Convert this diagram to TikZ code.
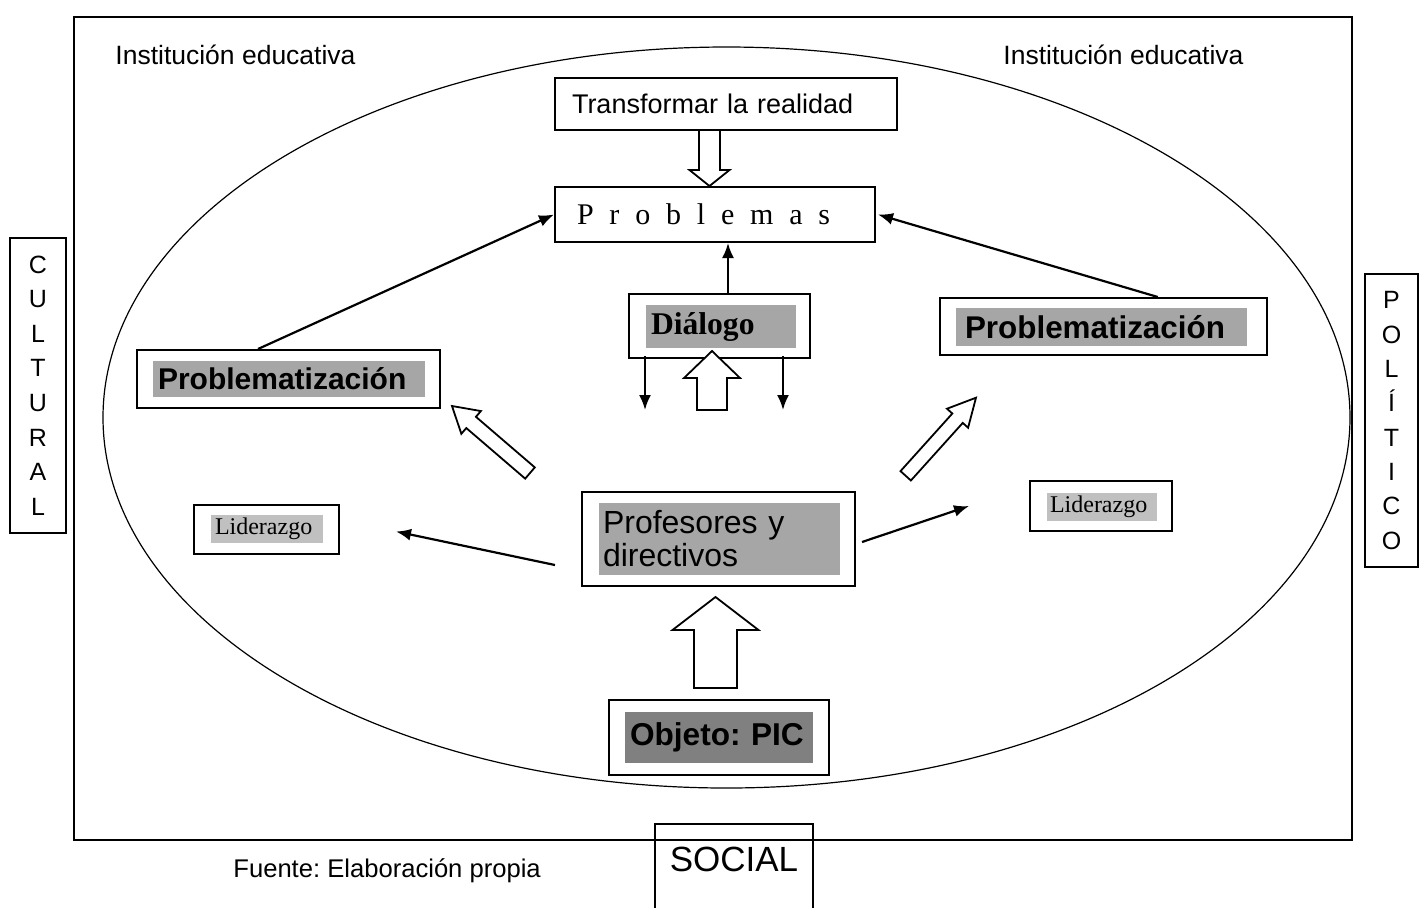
\documentclass[tikz,border=0pt]{standalone}
\usepackage{fontspec}
\setmainfont{Liberation Sans}
\newfontfamily\tms{Liberation Serif}
\usetikzlibrary{calc,arrows.meta}
\definecolor{graymid}{HTML}{A6A6A6}
\definecolor{graylight}{HTML}{C0C0C0}
\definecolor{graydark}{HTML}{808080}
\frenchspacing
\newcommand\fsz[2]{\fontsize{#1}{#2}\selectfont}
\newcommand\lsp{\hspace{7.9pt}}
% #1 tail, #2 tip, #3 shaft half width, #4 head half width, #5 head length, #6 name
\newcommand\hollowarrow[6]{%
  \coordinate (#6b) at ($(#2)!#5!(#1)$);
  \draw[harrow] ($(#1)!#3!90:(#2)$) -- ($(#6b)!#3!90:(#2)$) -- ($(#6b)!#4!90:(#2)$)
    -- (#2) -- ($(#6b)!#4!-90:(#2)$) -- ($(#6b)!#3!-90:(#2)$) -- ($(#1)!#3!-90:(#2)$) -- cycle;}
\begin{document}
\begin{tikzpicture}[x=0.5pt,y=-0.5pt,
  box/.style={draw, line width=1pt, inner sep=0pt},
  gbox/.style={inner ysep=0pt, align=left},
  arr/.style={line width=1.1pt,-{Latex[length=7.5pt,width=6pt]}},
  harrow/.style={line width=0.9pt, fill=white, line join=miter}]
\useasboundingbox (0,0) rectangle (1419,907);

% frame and ellipse
\draw[line width=0.8pt] (74,17) rectangle (1352,840);
\draw[line width=0.6pt] (726.5,417.5) ellipse [x radius=311.75pt, y radius=185.25pt];

% labels
\node[anchor=base west, inner sep=0pt, font=\fsz{13.25pt}{16pt}] (ie1) at (115,64) {Institución educativa};
\node[anchor=base west, inner sep=0pt, font=\fsz{13.25pt}{16pt}] (ie2) at (1003,64) {Institución educativa};
\node[anchor=base west, inner sep=0pt, font=\fsz{12.8pt}{16pt}] (fuente) at (233,877) {Fuente: Elaboración propia};

% side boxes
\node[box, minimum width=28pt, minimum height=147.5pt, align=center, font=\fsz{12.5pt}{17.3pt}] (cult) at (38,385.5) {C\\U\\L\\T\\U\\R\\A\\L};
\node[box, minimum width=26.5pt, minimum height=146.5pt, align=center, font=\fsz{12.5pt}{17.15pt}] (pol) at (1391.5,420.5) {P\\O\\L\\Í\\T\\I\\C\\O};
\node[box, anchor=north, minimum width=79pt, text height=23.5pt, text depth=25pt, font=\fsz{17.5pt}{20pt}] (social) at (734,823) {SOCIAL};

% top boxes
\node[box, minimum height=26pt, text width=154pt, inner xsep=8.5pt, align=left, font=\fsz{13.5pt}{16pt}] (transf) at (726,104) {Transformar la realidad};
\node[box, minimum height=27.5pt, text width=138pt, inner xsep=11pt, align=left, font=\tms\fsz{15pt}{18pt}] (prob) at (715,214.5) {P\lsp r\lsp o\lsp b\lsp l\lsp e\lsp m\lsp a\lsp s};

% Dialogo
\node[box, minimum width=90.5pt, minimum height=32pt] (dlg) at (719.5,326) {};
\node[gbox, fill=graymid, minimum height=21.5pt, text width=70pt, inner xsep=2.5pt, font=\tms\bfseries\fsz{15.8pt}{18pt}] (dlgt) at (721,326.5) {Diálogo};

% Problematizacion left
\node[box, minimum width=151.5pt, minimum height=29pt] (pl) at (288.5,379) {};
\node[gbox, fill=graymid, minimum height=18pt, text width=131pt, inner xsep=2.5pt, font=\bfseries\fsz{15pt}{17pt}] (plt) at (289,379) {Problematización};

% Problematizacion right
\node[box, minimum width=163.5pt, minimum height=28.5pt] (pr) at (1103.5,326.5) {};
\node[gbox, fill=graymid, minimum height=19pt, text width=136.5pt, inner xsep=4.5pt, font=\bfseries\fsz{15.7pt}{18pt}] (prt) at (1101.5,327) {Problematización};

% Profesores
\node[box, minimum width=136.5pt, minimum height=47pt] (prof) at (718.5,539) {};
\node[gbox, fill=graymid, minimum height=36pt, text width=116.5pt, inner xsep=2pt, font=\fsz{16pt}{16.5pt}] (proft) at (719.5,539) {Profesores y\\directivos};

% Liderazgo
\node[box, minimum width=72.5pt, minimum height=24.5pt] (ll) at (266.5,529.5) {};
\node[gbox, fill=graylight, minimum height=14pt, text width=52pt, inner xsep=2pt, font=\tms\fsz{12pt}{14pt}] (llt) at (267,529) {Liderazgo};
\node[box, minimum width=71pt, minimum height=25pt] (lr) at (1101,506) {};
\node[gbox, fill=graylight, minimum height=14pt, text width=52pt, inner xsep=1.5pt, font=\tms\fsz{12pt}{14pt}] (lrt) at (1102,507) {Liderazgo};

% Objeto
\node[box, line width=1.2pt, minimum width=110pt, minimum height=37.5pt] (obj) at (719,737.5) {};
\node[gbox, fill=graydark, minimum height=25.5pt, text width=89pt, inner xsep=2.5pt, font=\bfseries\fsz{15.8pt}{18pt}] (objt) at (719,737.5) {\mbox{Objeto: PIC}};

% solid connectors
\draw[arr] ($(pl.north west)!0.4!(pl.north east)$) -- (prob.west);
\draw[arr] ($(pr.north west)!0.665!(pr.north east)$) -- ($(prob.east)+(2,0)$);
\draw[arr] ($(dlg.north)+(8.5,0)$) -- ($(prob.south)+(13,0)$);

\coordinate (d1s) at (645,356); \coordinate (d1e) at (645,410);
\coordinate (d2s) at (783,356); \coordinate (d2e) at (783,410);
\draw[arr] (d1s) -- (d1e);
\draw[arr] (d2s) -- (d2e);

\coordinate (pls) at (555,565);
\coordinate (prs) at (862,542);
\draw[arr] (pls) -- ($(ll.east)+(56,2)$);
\draw[arr] (prs) -- ($(lr.west)+(-60,0)$);

% hollow arrows
\coordinate (h1t) at (709.5,130); \coordinate (h1h) at (709.5,186);
\hollowarrow{h1t}{h1h}{5.25pt}{10pt}{8pt}{ha}
\coordinate (h2t) at (712,410); \coordinate (h2h) at (712,351);
\hollowarrow{h2t}{h2h}{7.5pt}{14pt}{13.5pt}{hb}
\coordinate (h3t) at (715.5,688); \coordinate (h3h) at (715.5,597);
\hollowarrow{h3t}{h3h}{10.75pt}{21.5pt}{16.5pt}{hc}
\coordinate (h4t) at (530,473); \coordinate (h4h) at (452,406);
\hollowarrow{h4t}{h4h}{3.7pt}{7.5pt}{12.6pt}{hd}
\coordinate (h5t) at (905.7,475.8); \coordinate (h5h) at (976,397.7);
\hollowarrow{h5t}{h5h}{3.5pt}{7.1pt}{13.8pt}{he}
\end{tikzpicture}
\end{document}
